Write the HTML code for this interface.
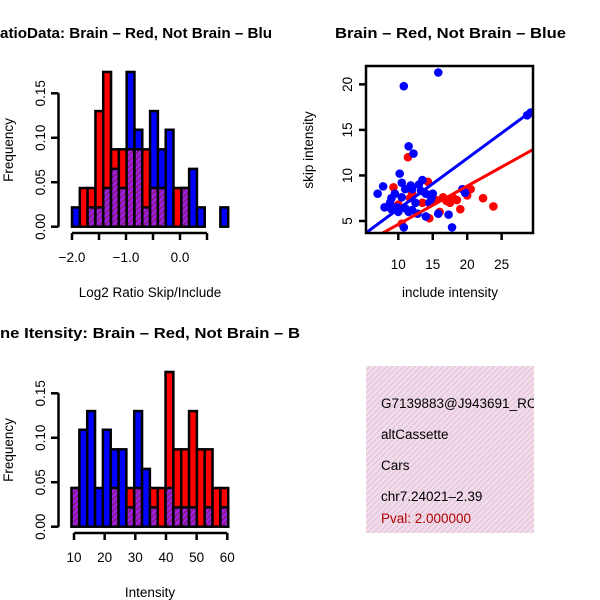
<!DOCTYPE html>
<html><head><meta charset="utf-8"><style>
html,body{margin:0;padding:0;background:#fff;}
svg{display:block;font-family:"Liberation Sans",sans-serif;}
</style></head><body>
<svg id="c" width="600" height="600" xmlns="http://www.w3.org/2000/svg">
<defs>
<pattern id="purp" width="4" height="4" patternUnits="userSpaceOnUse" patternTransform="rotate(45)">
<rect width="4" height="4" fill="#a020f0"/><rect width="2" height="4" fill="#8b1a8b"/>
</pattern>
<pattern id="pink" width="4" height="4" patternUnits="userSpaceOnUse" patternTransform="rotate(45)">
<rect width="4" height="4" fill="#f8d8f4"/><rect width="1.3" height="4" fill="#d8d0c8"/>
</pattern>
<clipPath id="infoClip"><rect x="366" y="366" width="168" height="167"/></clipPath>
</defs>
<text x="0" y="38" font-size="15" font-weight="bold" textLength="272" lengthAdjust="spacingAndGlyphs">atioData: Brain – Red, Not Brain – Blu</text>
<text x="335" y="38" font-size="15" font-weight="bold" textLength="231" lengthAdjust="spacingAndGlyphs">Brain – Red, Not Brain – Blue</text>
<text x="0" y="338" font-size="15" font-weight="bold" textLength="300" lengthAdjust="spacingAndGlyphs">ne Itensity: Brain – Red, Not Brain – B</text>
<g id="g1"></g>
<g id="g2"></g>
<g id="g3"></g>
<g>
<rect x="366" y="366" width="168" height="167" fill="url(#pink)"/>
<g clip-path="url(#infoClip)" font-size="13.5">
<text x="381" y="408">G7139883@J943691_RC</text>
<text x="381" y="439">altCassette</text>
<text x="381" y="470">Cars</text>
<text x="381" y="501">chr7.24021–2.39</text>
<text x="381" y="523" fill="#b00000">Pval: 2.000000</text>
</g>
</g>
</svg>
<script>
const NS="http://www.w3.org/2000/svg";
// Ratio histogram data
const ratioBinStart=-2.0, ratioBinWidth=0.1446;
const ratioRed=[0,0.0435,0.0435,0.13,0.174,0.087,0.087,0.087,0.087,0.087,0.0435,0.0435,0,0.0435,0.0435,0,0,0,0,0];
const ratioBlue=[0.0217,0,0.0217,0.0217,0.0435,0.065,0.0435,0.174,0.109,0.0217,0.13,0.087,0.109,0,0.0435,0.065,0.0217,0,0,0.0217];
const ratioXTicks=[-2,-1.5,-1,-0.5,0,0.5];
const ratioXLabels=["-2.0","","-1.0","","0.0",""];
// Intensity histogram data
const intBinStart=9.2, intBinWidth=2.555;
const intRed=[0.0435,0,0,0,0,0.0435,0,0.0435,0.0435,0,0.0435,0.0435,0.174,0.087,0.087,0.13,0.087,0.087,0.0435,0.0435];
const intBlue=[0.0435,0.109,0.13,0.0435,0.109,0.087,0.087,0.0217,0.13,0.065,0.0217,0,0.0435,0.0217,0.0217,0.0217,0,0.0217,0,0.0217];
const intXTicks=[10,20,30,40,50,60];
const freqTicks=[0,0.05,0.10,0.15];
const freqLabels=["0.00","0.05","0.10","0.15"];
// Scatter data
const blueX=[15.8,10.8,11.5,12.2,10.2,7,7.8,8,9,9.5,10,10.5,11,11.5,12,12.5,13,13.5,14,14.5,15,14,15.8,17.3,17.8,10.8,19.3,19.7,28.7,29.2,9.8,11,12.8,13.3,9,8.8,10.5,12,11.8,14.8];
const blueY=[21.3,19.8,13.2,12.4,10.2,8,8.8,6.5,7.5,8,6,9.2,8.5,6,8.5,7,9,9.5,8,7,8,5.5,5.8,5.7,4.3,4.3,8.5,8.1,16.6,16.9,6.5,6.4,5.8,8.3,6.3,7,7.6,6.2,8.9,7.5];
const redX=[11.4,9.3,10,14.3,13.5,14.5,15.5,16.5,17.5,18.5,19,20.5,22.3,23.8,18,16,12,11.7,10.5,17,20];
const redY=[12,8.7,6.8,9.3,7,5.3,7.3,7.6,7,7.3,6.3,8.5,7.5,6.6,7.5,6,8,7.5,4.7,7.2,7.8];
const blueFit=[0.75,0.556], redFit=[0.43,0.42];
const scXTicks=[10,15,20,25], scYTicks=[5,10,15,20];
const FS=13.5;

function el(tag,attrs,parent,txt){const e=document.createElementNS(NS,tag);for(const k in attrs)e.setAttribute(k,attrs[k]);if(txt!==undefined)e.textContent=txt;parent.appendChild(e);return e;}

function hist(g,red,blue,start,w,xs,xAt,yBase,xticks,xlabels,xlab,yLabCy){
  const ys=v=>yBase-v*(133.4/0.15);
  for(let i=0;i<red.length;i++){
    const x0=xs(start+i*w), x1=xs(start+(i+1)*w);
    const r=red[i], b=blue[i], hi=Math.max(r,b), lo=Math.min(r,b);
    if(hi>0){
      const bar=el('rect',{x:x0,y:ys(hi),width:x1-x0,height:ys(0)-ys(hi),fill:r>=b?'#ff0000':'#0000ff',stroke:'#000','stroke-width':2.5},g);
      
      
    }
    if(lo>0){
      const ov=el('rect',{x:x0,y:ys(lo),width:x1-x0,height:ys(0)-ys(lo),fill:'url(#purp)',stroke:'#000','stroke-width':2.5},g);
      
      
    }
  }
  const ya=el('line',{x1:58.5,x2:58.5,y1:ys(0),y2:ys(0.15),stroke:'#000','stroke-width':2.5},g);
  
  freqTicks.forEach((t,i)=>{
    el('line',{x1:51,x2:58.5,y1:ys(t),y2:ys(t),stroke:'#000','stroke-width':2.5},g);
    const tl=el('text',{x:45,y:ys(t),'font-size':FS,'text-anchor':'middle',transform:`rotate(-90 45 ${ys(t)})`},g,freqLabels[i]);
    
  });
  const xa=el('line',{x1:xs(xticks[0]),x2:xs(xticks[xticks.length-1]),y1:xAt,y2:xAt,stroke:'#000','stroke-width':2.5},g);
  
  xticks.forEach((t,i)=>{
    el('line',{x1:xs(t),x2:xs(t),y1:xAt,y2:xAt+7,stroke:'#000','stroke-width':2.5},g);
    if(xlabels[i]){const tl=el('text',{x:xs(t),y:xAt+29,'font-size':FS,'text-anchor':'middle'},g,xlabels[i].replace('-','−'));
    }
  });
  const xl=el('text',{x:150,y:xAt+64,'font-size':FS,'text-anchor':'middle'},g,xlab);
  
  const yl=el('text',{x:13,y:yLabCy,'font-size':FS,'text-anchor':'middle',transform:`rotate(-90 13 ${yLabCy})`},g,'Frequency');
  
}
const xs1=v=>72+(v+2)*54;
hist(document.getElementById('g1'),ratioRed,ratioBlue,ratioBinStart,ratioBinWidth,xs1,233,226.7,ratioXTicks,ratioXLabels,'Log2 Ratio Skip/Include',150);
const xs2=v=>74+(v-10)*3.066;
hist(document.getElementById('g2'),intRed,intBlue,intBinStart,intBinWidth,xs2,533,526.7,intXTicks,intXTicks.map(String),'Intensity',450);

(function(){
  const g=document.getElementById('g3');
  const sx=v=>398.3+(v-10)*6.89, sy=v=>221-(v-5)*9.11;
  el('clipPath',{id:'scClip'},g);
  el('rect',{x:366,y:66,width:167,height:167},g.lastChild);
  const pts=el('g',{'clip-path':'url(#scClip)'},g);
  for(let i=0;i<redX.length;i++){const c=el('circle',{cx:sx(redX[i]),cy:sy(redY[i]),r:4.3,fill:'#ff0000'},pts);
    }
  for(let i=0;i<blueX.length;i++){const c=el('circle',{cx:sx(blueX[i]),cy:sy(blueY[i]),r:4.3,fill:'#0000ff'},pts);
    }
  [[blueFit,'#0000ff','fit-line-blue'],[redFit,'#ff0000','fit-line-red']].forEach(([f,col,nm])=>{
    const a=0,b=40;
    const l=el('line',{x1:sx(a),y1:sy(f[0]+f[1]*a),x2:sx(b),y2:sy(f[0]+f[1]*b),stroke:col,'stroke-width':3},pts);
    
  });
  const box=el('rect',{x:366,y:66,width:167,height:167,fill:'none',stroke:'#000','stroke-width':2.5},g);
  
  scXTicks.forEach(t=>{el('line',{x1:sx(t),x2:sx(t),y1:233,y2:240,stroke:'#000','stroke-width':2.5},g);
    const tl=el('text',{x:sx(t),y:269,'font-size':FS,'text-anchor':'middle'},g,String(t));
    });
  scYTicks.forEach(t=>{el('line',{x1:359,x2:366,y1:sy(t),y2:sy(t),stroke:'#000','stroke-width':2.5},g);
    const tl=el('text',{x:352,y:sy(t),'font-size':FS,'text-anchor':'middle',transform:`rotate(-90 352 ${sy(t)})`},g,String(t));
    });
  const xl=el('text',{x:450,y:297,'font-size':FS,'text-anchor':'middle'},g,'include intensity');
  
  const yl=el('text',{x:313,y:150,'font-size':FS,'text-anchor':'middle',transform:'rotate(-90 313 150)'},g,'skip intensity');
  
})();
</script>
</body></html>
